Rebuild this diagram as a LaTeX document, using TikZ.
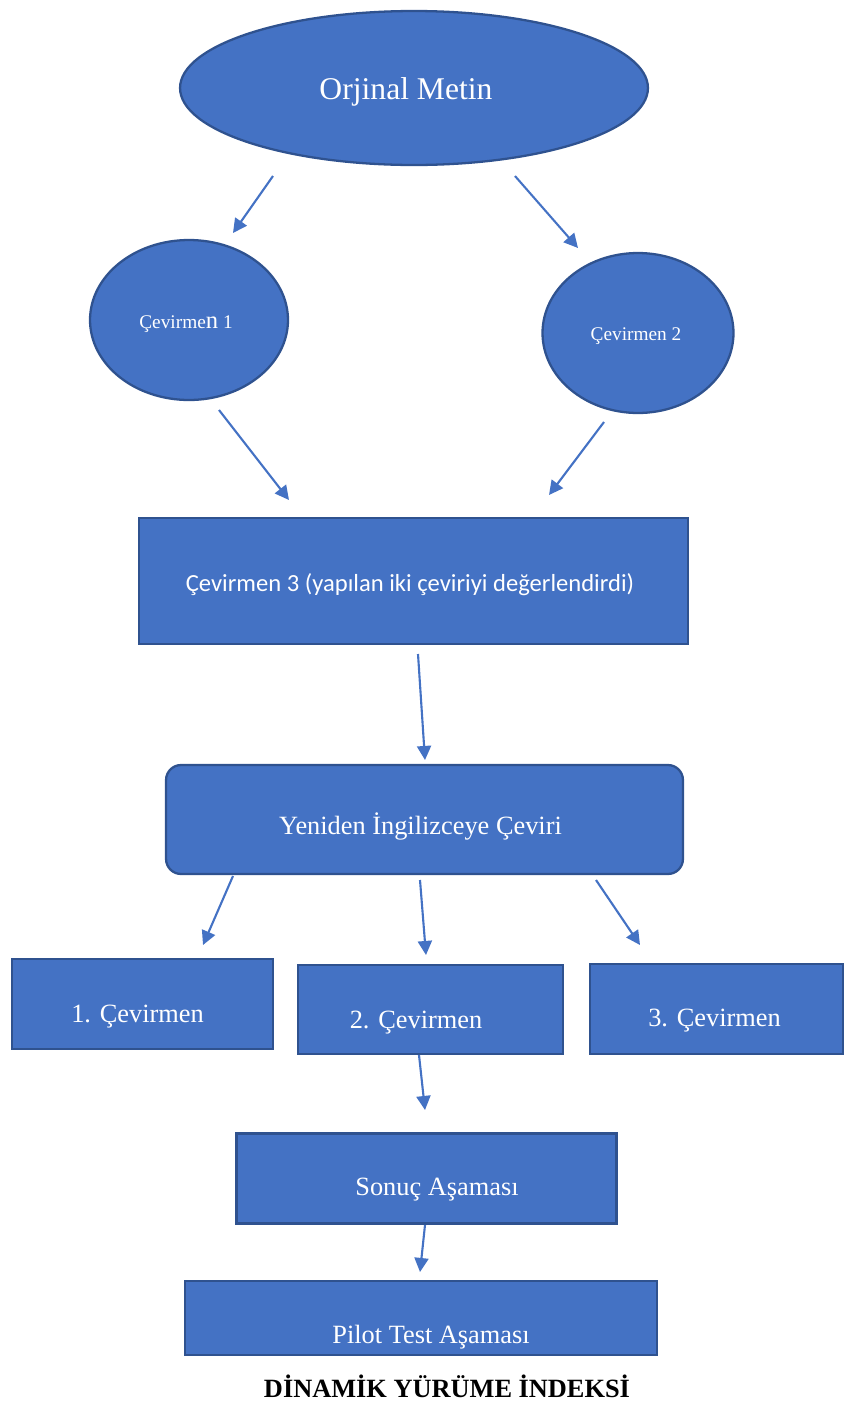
\documentclass[tikz,border=0pt]{standalone}
\usepackage{fontspec}
\setmainfont{Liberation Serif}
\newfontfamily\calibrifont{Carlito}
\usetikzlibrary{shapes.geometric,arrows.meta}
\definecolor{boxblue}{HTML}{4472C4}
\definecolor{edgeblue}{HTML}{2F528F}

\begin{document}
\begin{tikzpicture}[x=0.02cm,y=-0.02cm,
    blob/.style={ellipse,draw=edgeblue,line width=1.3pt,fill=boxblue,inner sep=0pt},
    panel/.style={rectangle,draw=edgeblue,line width=1.3pt,fill=boxblue,inner sep=0pt},
    txt/.style={text=white,inner sep=0pt,font=\fontsize{15}{18}\selectfont},
    arr/.style={-{Triangle[length=8pt,width=8pt]},boxblue,line width=1.2pt}]

      \useasboundingbox (0,0) rectangle (843,1403);

      \node[blob,minimum width=9.36cm,minimum height=3.08cm] (orig) at (414,88) {};
      \node[txt,font=\fontsize{18}{22}\selectfont] (origt) at (406,92) {Orjinal Metin};

      \node[blob,minimum width=3.96cm,minimum height=3.2cm] (cev1) at (189,320) {};
      \node[txt,font=\fontsize{11}{13}\selectfont] (cev1t) at (186,324) {Çevirme{\fontsize{14}{16}\selectfont n} 1};

      \node[blob,minimum width=3.82cm,minimum height=3.2cm] (cev2) at (638,333) {};
      \node[txt,font=\fontsize{11}{13}\selectfont] (cev2t) at (636,336) {Çevirmen 2};

      \node[panel,minimum width=10.98cm,minimum height=2.52cm] (cev3) at (413.5,581) {};
      \node[txt,font=\calibrifont\fontsize{14}{17}\selectfont] (cev3t) at (410,585) {Çevirmen 3 (yapılan iki çeviriyi değerlendirdi)};

      \node[panel,rounded corners=0.3cm,minimum width=10.34cm,minimum height=2.18cm] (yeni) at (424.5,819.5) {};
      \node[txt] (yenit) at (420.5,826) {Yeniden İngilizceye Çeviri};

      \node[panel,minimum width=5.22cm,minimum height=1.8cm] (bir) at (142.5,1004) {};
      \node[txt] (birt) at (137.5,1017) {1. Çevirmen};

      \node[panel,minimum width=5.3cm,minimum height=1.78cm] (iki) at (430.5,1009.5) {};
      \node[txt] (ikit) at (416,1023) {2. Çevirmen};

      \node[panel,minimum width=5.06cm,minimum height=1.8cm] (uc) at (716.5,1009) {};
      \node[txt] (uct) at (714.5,1021) {3. Çevirmen};

      \node[panel,minimum width=7.6cm,minimum height=1.8cm] (sonuc) at (426.5,1178.5) {};
      \node[txt] (sonuct) at (437,1190) {Sonuç Aşaması};

      \node[panel,minimum width=9.44cm,minimum height=1.48cm] (pilot) at (421,1318) {};
      \node[txt] (pilott) at (431,1337) {Pilot Test Aşaması};

      \node[inner sep=0pt,font=\bfseries\fontsize{15}{18}\selectfont] (baslik) at (447,1386) {DİNAMİK YÜRÜME İNDEKSİ};

      \coordinate (a1s) at (273,176);  \coordinate (a1e) at (233,233);
      \coordinate (a2s) at (515,176);  \coordinate (a2e) at (578,248);
      \coordinate (a3s) at (219,410);  \coordinate (a3e) at (289,500);
      \coordinate (a4s) at (604,422);  \coordinate (a4e) at (549,495);
      \coordinate (a5s) at (418,654);  \coordinate (a5e) at (425,760);
      \coordinate (a6s) at (233,876);  \coordinate (a6e) at (203,945);
      \coordinate (a7s) at (420,880);  \coordinate (a7e) at (426,955);
      \coordinate (a8s) at (596,880);  \coordinate (a8e) at (640,945);
      \coordinate (a9s) at (419,1055); \coordinate (a9e) at (425,1110);
      \coordinate (a10s) at (425,1225); \coordinate (a10e) at (420,1272);

      \draw[arr] (a1s) -- (a1e);
      \draw[arr] (a2s) -- (a2e);
      \draw[arr] (a3s) -- (a3e);
      \draw[arr] (a4s) -- (a4e);
      \draw[arr] (a5s) -- (a5e);
      \draw[arr] (a6s) -- (a6e);
      \draw[arr] (a7s) -- (a7e);
      \draw[arr] (a8s) -- (a8e);
      \draw[arr] (a9s) -- (a9e);
      \draw[arr] (a10s) -- (a10e);
    \end{tikzpicture}
\end{document}
